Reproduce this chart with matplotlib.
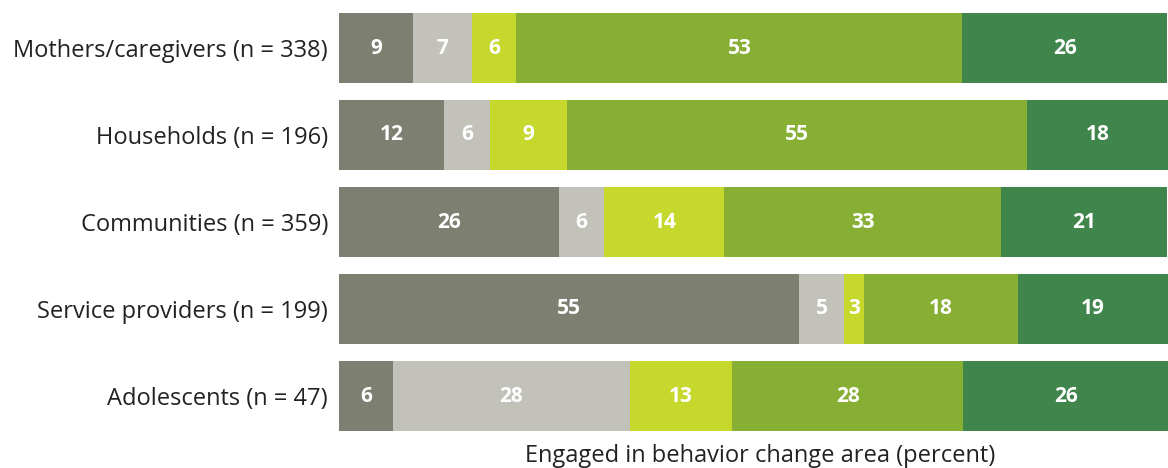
import matplotlib
matplotlib.use("Agg")
import matplotlib.pyplot as plt
import numpy as np

plt.rcParams["font.family"] = ["Open Sans", "DejaVu Sans"]

# ── Data ─────────────────────────────────────
groups = [
    "Mothers/caregivers (n = 338)",
    "Households (n = 196)",
    "Communities (n = 359)",
    "Service providers (n = 199)",
    "Adolescents (n = 47)",
]

# segment widths (percent, as drawn) and the printed labels
seg1 = [8.9, 12.7, 26.5, 55.5, 6.5]
seg2 = [7.2, 5.5, 5.5, 5.4, 28.6]
seg3 = [5.3, 9.3, 14.5, 2.4, 12.3]
seg4 = [53.8, 55.5, 33.4, 18.6, 27.9]
seg5 = [24.7, 17.0, 20.0, 18.1, 24.7]

lab1 = [9, 12, 26, 55, 6]
lab2 = [7, 6, 6, 5, 28]
lab3 = [6, 9, 14, 3, 13]
lab4 = [53, 55, 33, 18, 28]
lab5 = [26, 18, 21, 19, 26]

COLORS = ["#7D8070", "#C3C2BA", "#C5D82B", "#87AF33", "#3F854C"]

segments = [seg1, seg2, seg3, seg4, seg5]
labels = [lab1, lab2, lab3, lab4, lab5]

# ── Plot ─────────────────────────────────────
fig = plt.figure(figsize=(11.68, 4.68), dpi=100)
ax = fig.add_axes([339 / 1168, 28.5 / 468, 829 / 1168, 435 / 468])

y = np.arange(len(groups))
left = np.zeros(len(groups))
for vals, labs, color in zip(segments, labels, COLORS):
    vals = np.array(vals)
    ax.barh(y, vals, left=left, height=0.805, color=color, linewidth=0)
    for yi, (l, v, t) in enumerate(zip(left, vals, labs)):
        ax.text(l + v / 2, yi, str(t), ha="center", va="center",
                color="white", fontsize=15, fontweight="bold")
    left += vals

ax.set_xlim(0, left.max())
ax.set_ylim(len(groups) - 0.5, -0.5)
ax.set_yticks(y)
ax.set_yticklabels(groups, fontsize=17, color="#222222")
ax.tick_params(axis="y", length=0, pad=8)
ax.set_xticks([])
for s in ax.spines.values():
    s.set_visible(False)

fig.text(760 / 1168, 0, "Engaged in behavior change area (percent)",
         ha="center", va="bottom", fontsize=17, color="#222222")

fig.savefig("out.png", dpi=100)
